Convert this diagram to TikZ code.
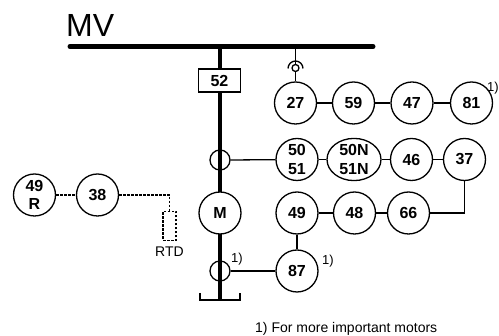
\documentclass[tikz,border=0pt]{standalone}
\usepackage{fontspec}
\setmainfont{Liberation Sans}
\usetikzlibrary{shapes.geometric}
\begin{document}
\begin{tikzpicture}[x=1pt,y=-1pt,
	relay/.style={draw,circle,fill=white,line width=1.3pt,minimum size=42pt,inner sep=0pt,
		align=center,font=\fontsize{16}{18.5}\selectfont\bfseries},
	ctbox/.style={draw,circle,line width=1.3pt,minimum size=20pt,inner sep=0pt},
	wire/.style={line width=1.3pt},
	dots/.style={line width=1.3pt,dash pattern=on 2.5pt off 1.5pt},
	note/.style={inner sep=0pt,font=\fontsize{14}{16}\selectfont}]
	\useasboundingbox (0,0) rectangle (499,336);

	% Busbar
	\draw[line width=5pt,line cap=round] (70,46.5) -- (373,46.5);
	\node[anchor=base west,inner sep=0pt,font=\fontsize{32}{32}\selectfont] (mv) at (66,37) {MV};

	% Motor feeder
	\coordinate (feed) at (220,46.5);
	\coordinate (foot) at (220,300);
	\draw[line width=3.5pt] (feed) -- (foot);
	\draw[line width=2.5pt] (200,293) -- (200,300) -- (240,300) -- (240,293);
	\node[draw,fill=white,line width=1.3pt,minimum width=42pt,minimum height=23pt,inner sep=0pt,
		font=\fontsize{16}{18}\selectfont\bfseries] (cb) at (219.5,80.5) {52};
	\node[ctbox] (ct1) at (220,160) {};
	\node[relay] (motor) at (220,213) {M};
	\node[ctbox] (ct2) at (220,271) {};
	\node[note,font=\fontsize{13}{15}\selectfont] (n1) at (237,259) {1)};

	% Voltage transformer
	\coordinate (vtb) at (295.5,46.5);
	\node[draw,circle,line width=1.3pt,minimum size=7pt,inner sep=0pt] (vt) at (295.5,68) {};
	\draw[wire] (288,68.5) arc[start angle=180,end angle=360,radius=7.5];

	% Voltage relays
	\node[relay] (r27) at (295.5,103) {27};
	\node[relay] (r59) at (353.5,103) {59};
	\node[relay] (r47) at (412,103) {47};
	\node[relay] (r81) at (471.5,103) {81};
	\node[note,anchor=west,font=\fontsize{13}{15}\selectfont] (n81) at (487,88) {1)};
	\draw[wire] (vtb) -- (vt.north);
	\draw[wire] (vt.south) -- (r27.north);
	\draw[wire] (r27) -- (r59);
	\draw[wire] (r59) -- (r47);
	\draw[wire] (r47) -- (r81);

	% Current relays
	\node[relay] (r50) at (297,159.5) {50\\51};
	\node[relay,ellipse,minimum width=54pt,minimum height=40pt] (r50n) at (354,159.5) {50N\\51N};
	\node[relay] (r46) at (411.5,159.5) {46};
	\node[relay] (r37) at (464.5,159.5) {37};
	\draw[wire] (ct1.east) -- (r50);
	\draw[wire] (r50) -- (r50n);
	\draw[wire] (r50n) -- (r46);
	\draw[wire] (r46) -- (r37);

	\node[relay] (r49) at (297,213) {49};
	\node[relay] (r48) at (354.5,213) {48};
	\node[relay] (r66) at (408.5,213) {66};
	\draw[wire] (r49) -- (r48);
	\draw[wire] (r48) -- (r66);
	\draw[wire] (r66) -| (r37);

	% Differential
	\node[relay] (r87) at (297,271) {87};
	\node[note,font=\fontsize{13}{15}\selectfont] (n87) at (328,261) {1)};
	\draw[wire] (r49) -- (r87);
	\draw[wire] (ct2.east) -- (r87);

	% Temperature
	\node[relay] (r49r) at (34.5,195) {49\\R};
	\node[relay] (r38) at (97.5,195) {38};
	\node[draw,dots,minimum width=13pt,minimum height=29pt,inner sep=0pt] (rtd) at (169.5,226) {};
	\node[note,anchor=base] (rtdl) at (169.5,257) {RTD};
	\draw[dots] (r49r) -- (r38);
	\draw[dots] (r38) -| (rtd.north);

	% Footnote
	\node[note,anchor=base west] (foot1) at (255,333) {1) For more important motors};

\end{tikzpicture}
\end{document}
